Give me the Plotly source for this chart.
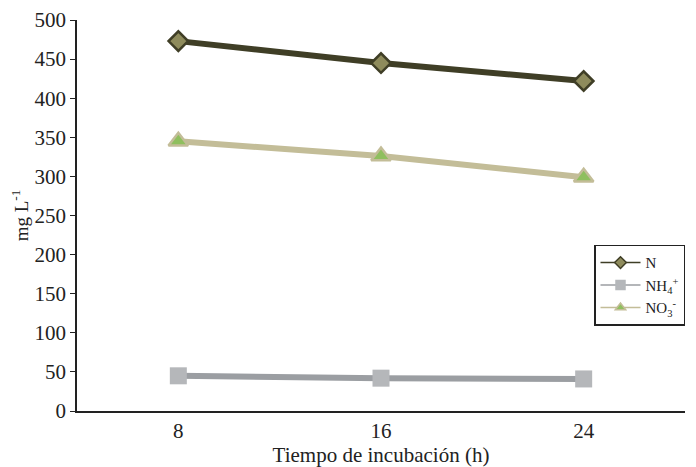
import plotly.graph_objects as go

categories = ["8", "16", "24"]
n_vals = [473, 445, 422]
nh4_vals = [45, 42, 41]
no3_vals = [345, 326, 299]
y_ticks = [0, 50, 100, 150, 200, 250, 300, 350, 400, 450, 500]

series = [
    dict(name="N", y=n_vals, line="#3f3e26", sym="diamond", fill="#8e8b5c", edge="#3f3e26", size=15, ew=2.5),
    dict(name="NH<sub>4</sub><sup>+</sup>", y=nh4_vals, line="#9b9ea2", sym="square", fill="#b5b7ba", edge="#b5b7ba", size=17, ew=0),
    dict(name="NO<sub>3</sub><sup>-</sup>", y=no3_vals, line="#c3bd98", sym="triangle-up", fill="#8fbf5e", edge="#c3bd98", size=17, ew=2.5),
]

fig = go.Figure()
for s in series:
    fig.add_trace(go.Scatter(
        x=categories, y=s["y"], name=s["name"], mode="lines+markers", showlegend=False,
        line=dict(color=s["line"], width=6),
        marker=dict(symbol=s["sym"], size=s["size"], color=s["fill"], line=dict(color=s["edge"], width=s["ew"])),
    ))
for s in series:
    fig.add_trace(go.Scatter(
        x=[None], y=[None], name=s["name"], mode="lines+markers", showlegend=True,
        line=dict(color=s["line"], width=1.5),
        marker=dict(symbol=s["sym"], size=9, color=s["fill"], line=dict(color=s["edge"], width=1.5)),
    ))

fig.update_layout(
    width=688, height=459,
    margin=dict(l=69, r=11, t=12, b=56, autoexpand=False),
    plot_bgcolor="white", paper_bgcolor="white",
    font=dict(family="Liberation Serif", size=21, color="#222"),
    showlegend=True,
    legend=dict(
        x=1.0, xanchor="right", y=0.425, yanchor="top",
        bordercolor="#222", borderwidth=1.5, bgcolor="white",
        font=dict(family="Liberation Serif", size=15),
        tracegroupgap=0, itemwidth=40,
    ),
    xaxis=dict(
        type="category", range=[-0.5, 2.5], showline=True, linecolor="#222", linewidth=1.5,
        ticks="", showgrid=False, zeroline=False, automargin=False,
        title=dict(text="Tiempo de incubación (h)", font=dict(size=21)),
    ),
    yaxis=dict(
        range=[0, 500], tickvals=y_ticks, showline=True, linecolor="#222", linewidth=1.5,
        ticks="outside", ticklen=5, tickcolor="#222", showgrid=False, zeroline=False, automargin=False,
        title=dict(text="mg L<sup>-1</sup>", font=dict(size=19)),
    ),
)

fig.write_html("out.html", config={"displayModeBar": False})
